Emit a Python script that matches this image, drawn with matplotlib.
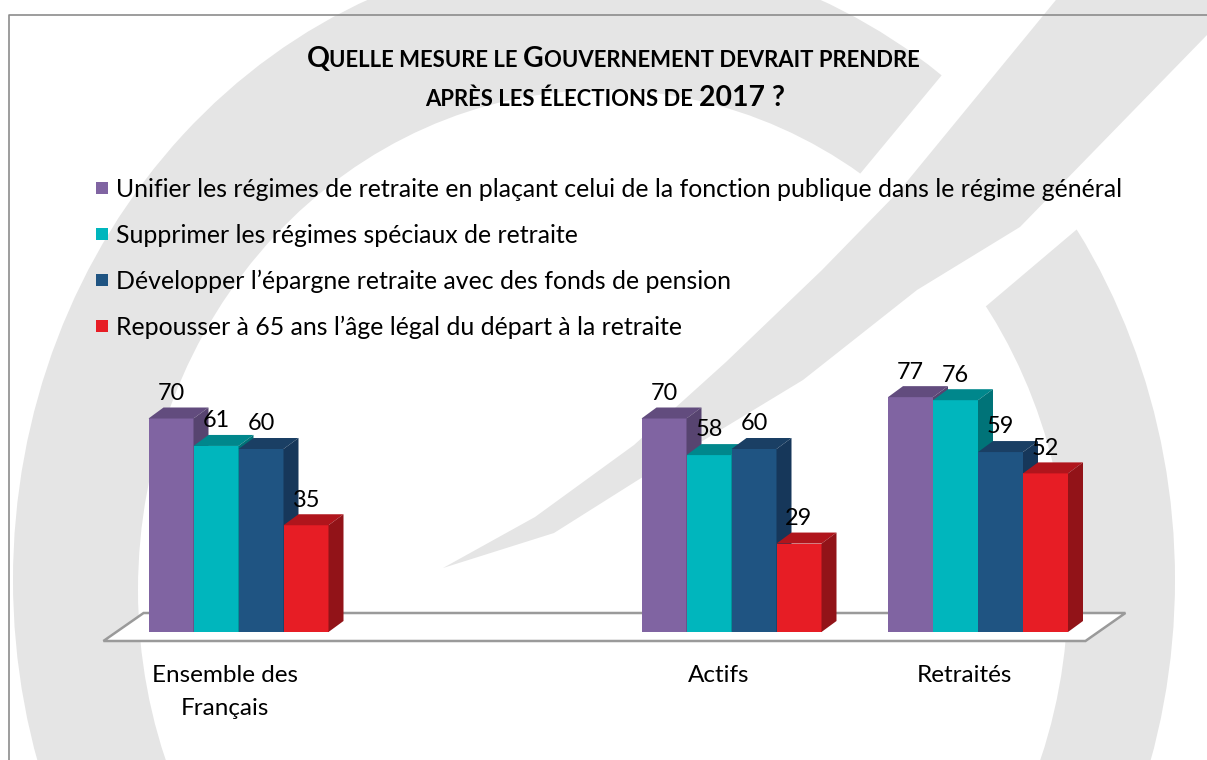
"""Sondage retraites : quelle mesure après les élections de 2017 ? (barres 3D)."""
import numpy as np
import matplotlib; matplotlib.use("Agg")
import matplotlib.pyplot as plt
from matplotlib.patches import Polygon, Rectangle, Ellipse

# ---- data ---------------------------------------------------------------
categories = ["Ensemble des\nFrançais", "", "Actifs", "Retraités"]   # 2nd slot = empty gap
series_labels = [
    "Unifier les régimes de retraite en plaçant celui de la fonction publique dans le régime général",
    "Supprimer les régimes spéciaux de retraite",
    "Développer l’épargne retraite avec des fonds de pension",
    "Repousser à 65 ans l’âge légal du départ à la retraite",
]
unifier    = [70, np.nan, 70, 77]
supprimer  = [61, np.nan, 58, 76]
developper = [60, np.nan, 60, 59]
repousser  = [35, np.nan, 29, 52]

front_colors = ["#8064a2", "#00b6bd", "#1f5482", "#e71d25"]
top_colors   = ["#624c7e", "#00878c", "#1a3f64", "#b0151c"]
side_colors  = ["#574470", "#007378", "#16375a", "#921318"]

W, H = 1207, 760
FONT = "Lato"

fig = plt.figure(figsize=(W / 100, H / 100), dpi=100)
renderer = fig.canvas.get_renderer()

# ---- background layer (pixel coords, y down): watermark + frame ---------
bg = fig.add_axes([0, 0, 1, 1]); bg.set_xlim(0, W); bg.set_ylim(H, 0); bg.axis("off")
wm = "#e5e5e5"
bg.add_patch(Ellipse((594, 580), 2 * 581, 2 * 630, color=wm, lw=0))
bg.add_patch(Ellipse((603, 590), 2 * 465, 2 * 500, color="white", lw=0))
bg.add_patch(Polygon([(1062, -70), (792, 256), (939, 346), (1375, -23)], color="white", lw=0))
slash = [(1060, -5), (900, 190), (822, 270), (726, 362), (634, 445), (535, 517), (443, 568),
         (554, 533), (638, 480), (803, 380), (917, 290), (1020, 227), (1207, 35), (1250, -5)]
bg.add_patch(Polygon(slash, color=wm, lw=0))
bg.plot([9, 9, W], [H, 15, 15], color="#8c8c8c", lw=1.2)


def text_width(s, size, weight="normal"):
    t = bg.text(0, 0, s, fontsize=size, fontweight=weight, family=FONT)
    w = t.get_window_extent(renderer).width
    t.remove()
    return w


# ---- title in small caps (big/small pieces laid out side by side) -------
line1 = [("Q", 1), ("UELLE MESURE LE", 0), (None, 0), ("G", 1), ("OUVERNEMENT DEVRAIT PRENDRE", 0)]
line2 = [("APRÈS LES ÉLECTIONS DE", 0), (None, 0), ("2017 ?", 1)]
RATIO = 0.78


def widths(pieces, L):
    S = L * RATIO
    sp = text_width("n n", S, "bold") - text_width("nn", S, "bold")
    return [sp if s is None else text_width(s, L if big else S, "bold") for s, big in pieces]


L = 10 * 617 / sum(widths(line1, 10))
for pieces, cx, base in [(line1, 613, 67), (line2, 605, 106)]:
    ws = widths(pieces, L)
    x = cx - sum(ws) / 2
    for (s, big), w in zip(pieces, ws):
        if s is not None:
            bg.text(x, base, s, fontsize=L if big else L * RATIO, fontweight="bold",
                    family=FONT, va="baseline", ha="left", color="black")
        x += w

# ---- legend -------------------------------------------------------------
leg_size = 10 * 1007 / text_width(series_labels[0], 10)
cap = 0.7165 * leg_size * 100 / 72
for k, lab in enumerate(series_labels):
    yc = 188 + 46 * k
    bg.add_patch(Rectangle((96, yc - 6), 12, 12, color=front_colors[k], lw=0))
    bg.text(116, yc + cap / 2, lab, fontsize=leg_size, family=FONT, va="baseline", color="black")

# ---- 3D bar chart -------------------------------------------------------
ax = fig.add_axes([115.25 / W, 128 / H, 986 / W, 305 / H])
ax.set_xlim(-0.5, 3.5); ax.set_ylim(0, 100); ax.axis("off")
BW, DX, DY = 45 / 246.5, 15 / 246.5, 11 / 3.05

floor = [(-0.548, -2.95), (3.436, -2.95), (3.598, 6.23), (-0.385, 6.23)]
ax.add_patch(Polygon(floor, facecolor="white", edgecolor="#9a9a9a", lw=1.8, clip_on=False, zorder=1))

lab_size = 10 * 27 / text_width("70", 10)
x = np.arange(len(categories))
for k, vals in enumerate([unifier, supprimer, developper, repousser]):
    x0 = x + (k - 2) * BW
    vals = np.asarray(vals, float)
    ax.bar(x0, vals, width=BW, align="edge", color=front_colors[k], lw=0, zorder=3 + k,
           label=series_labels[k])
    for xi, v in zip(x0, vals):
        if np.isnan(v):
            continue
        ax.add_patch(Polygon([(xi, v), (xi + BW, v), (xi + BW + DX, v + DY), (xi + DX, v + DY)],
                             color=top_colors[k], lw=0, zorder=3 + k, clip_on=False))
        ax.add_patch(Polygon([(xi + BW, 0), (xi + BW + DX, DY), (xi + BW + DX, v + DY), (xi + BW, v)],
                             color=side_colors[k], lw=0, zorder=3 + k, clip_on=False))
        ax.text(xi + BW / 2, v + DY + 2.5, f"{v:.0f}", ha="center", va="baseline",
                fontsize=lab_size, family=FONT, color="black", zorder=20)

cat_size = 10 * 146 / text_width("Ensemble des", 10)
for i, cat in enumerate(categories):
    for j, line in enumerate(cat.split("\n")):
        if line:
            ax.text(i - 0.053, (632 - (682 + 33 * j)) / 3.05, line, ha="center", va="baseline",
                    fontsize=cat_size, family=FONT, color="black")

fig.savefig("out.png", dpi=100)
